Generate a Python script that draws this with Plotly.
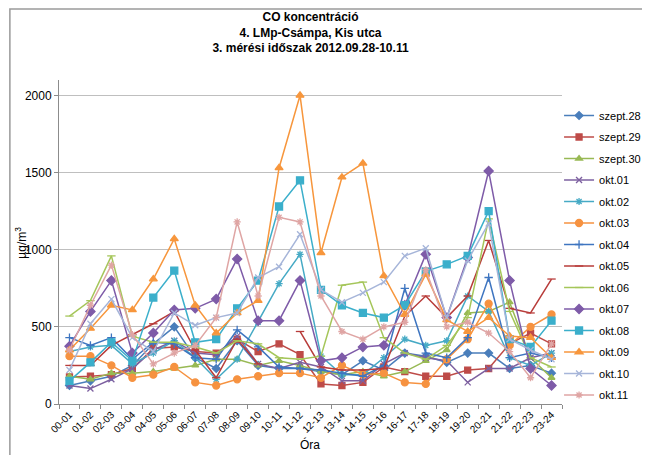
import plotly.graph_objects as go

hours = ["00-01", "01-02", "02-03", "03-04", "04-05", "05-06", "06-07", "07-08",
         "08-09", "09-10", "10-11", "11-12", "12-13", "13-14", "14-15", "15-16",
         "16-17", "17-18", "18-19", "19-20", "20-21", "21-22", "22-23", "23-24"]

szept28 = [120, 150, 180, 250, 390, 500, 300, 230, 410, 250, 230, 230, 210, 190, 280, 220, 330, 310, 270, 330, 330, 230, 250, 200]
szept29 = [175, 180, 190, 230, 360, 370, 340, 330, 420, 340, 390, 320, 130, 120, 140, 240, 210, 180, 180, 220, 230, 390, 460, 390]
szept30 = [180, 160, 200, 200, 210, 230, 250, 290, 290, 250, 280, 250, 210, 190, 210, 180, 210, 280, 350, 590, 600, 660, 300, 170]
okt01 = [120, 100, 160, 230, 350, 410, 330, 320, 440, 260, 230, 270, 240, 150, 150, 260, 330, 300, 280, 140, 230, 230, 300, 330]
okt02 = [340, 370, 380, 260, 330, 410, 300, 160, 290, 530, 780, 970, 310, 190, 190, 300, 420, 380, 410, 700, 600, 300, 250, 330]
okt03 = [310, 310, 250, 170, 190, 240, 140, 120, 160, 180, 200, 200, 170, 250, 190, 200, 140, 130, 290, 420, 650, 380, 500, 580]
okt04 = [430, 380, 430, 290, 400, 390, 300, 290, 480, 370, 240, 230, 220, 200, 180, 250, 750, 330, 300, 430, 820, 300, 330, 300]
okt05 = [250, 250, 380, 450, 520, 600, 350, 170, 420, 260, None, 470, 240, 220, 220, 230, 570, 700, 560, 700, 1060, 620, 590, 810]
okt06 = [570, 670, 960, 440, 400, 400, 370, 330, 410, 390, 300, 290, 310, 770, 790, 430, 330, 290, 380, 560, 1200, 600, 300, 240]
okt07 = [375, 600, 800, 330, 460, 610, 620, 680, 940, 540, 540, 800, 280, 300, 370, 380, 640, 970, 560, 950, 1510, 800, 230, 120]
okt08 = [150, 270, 400, 280, 690, 865, 400, 420, 620, 800, 1280, 1450, 740, 640, 590, 560, 640, 860, 905, 960, 1250, 420, 370, 540]
okt09 = [350, 490, 640, 610, 810, 1070, 640, 460, 590, 670, 1530, 2000, 980, 1470, 1560, 830, 580, 840, 545, 470, 560, 440, 430, 300]
okt10 = [220, 520, 680, 430, 340, 590, 510, 560, 590, 820, 890, 1100, 740, 660, 720, 790, 960, 1010, 560, 930, 1170, 420, 350, 290]
okt11 = [350, 640, 900, 450, 260, 330, 380, 560, 1180, 700, 1210, 1180, 700, 470, 420, 500, 530, 870, 500, 530, 460, 340, 170, 390]

series_names = ["szept.28", "szept.29", "szept.30", "okt.01", "okt.02", "okt.03", "okt.04",
                "okt.05", "okt.06", "okt.07", "okt.08", "okt.09", "okt.10", "okt.11"]
series_values = [szept28, szept29, szept30, okt01, okt02, okt03, okt04,
                 okt05, okt06, okt07, okt08, okt09, okt10, okt11]

colors = ["#4A7EBB", "#BE4B48", "#98B954", "#7D60A0", "#46AAC5", "#F69240", "#3E75C0",
          "#B83C3A", "#A5C65A", "#7E5BA8", "#3BAFCB", "#F7963C", "#A6B5D9", "#DFA5A4"]
symbols = ["diamond", "square", "triangle-up", "x-thin-open", "asterisk-open", "circle",
           "cross-thin-open", "line-ew-open", "line-ew-open", "diamond", "square",
           "triangle-up", "x-thin-open", "asterisk-open"]
sizes = [6, 6, 6, 6, 6, 7, 6, 6, 6, 7, 7, 7, 6, 6]

fig = go.Figure()
for name, vals, col, sym, sz in zip(series_names, series_values, colors, symbols, sizes):
    fig.add_trace(go.Scatter(
        x=hours, y=vals, name=name, mode="lines+markers",
        line=dict(color=col, width=1.5),
        marker=dict(symbol=sym, size=sz, color=col, line=dict(color=col, width=1.3)),
        connectgaps=False, legendgroup=name,
    ))

L, R, T, B = 51, 563, 72, 396
W, H = 650, 455
pw, ph = R - L, B - T

def px_x(x):
    return (x - L) / pw

def px_y(y):
    return (B - y) / ph

fig.update_layout(
    width=W, height=H,
    margin=dict(l=L, r=W - R, t=T, b=H - B),
    paper_bgcolor="white", plot_bgcolor="white",
    font=dict(family="Liberation Sans, Arial, sans-serif", size=11, color="#000000"),
    title=dict(
        text="CO koncentráció<br>4. LMp-Csámpa, Kis utca<br>3. mérési időszak 2012.09.28-10.11",
        x=0.5, xanchor="center", y=1 - 13 / H, yanchor="middle", xref="paper",
        font=dict(family="Liberation Sans Narrow, Arial Narrow, Liberation Sans, sans-serif",
                  size=12, color="#000000", weight="bold"),
    ),
    showlegend=True,
    legend=dict(
        x=px_x(560), xanchor="left", y=px_y(93), yanchor="top",
        font=dict(size=11, color="#000000"),
        bgcolor="rgba(0,0,0,0)", tracegroupgap=2.5, itemwidth=30,
    ),
    xaxis=dict(
        type="category", range=[-0.5, 23.5], tickangle=-45,
        showgrid=False, showline=True, linecolor="#8C8C8C", linewidth=1,
        ticks="outside", tickson="boundaries", ticklen=4, tickcolor="#8C8C8C",
        tickfont=dict(size=10, color="#000000"),
    ),
    yaxis=dict(
        range=[0, 2100], tickvals=[0, 500, 1000, 1500, 2000],
        showgrid=True, gridcolor="#BFBFBF", gridwidth=1,
        showline=True, linecolor="#8C8C8C", linewidth=1,
        ticks="outside", ticklen=4, tickcolor="#8C8C8C",
        tickfont=dict(size=12, color="#000000"), zeroline=False,
    ),
    annotations=[
        dict(text="µg/m<sup>3</sup>", x=px_x(12), y=px_y(235), xref="paper", yref="paper",
             showarrow=False, textangle=-90, font=dict(size=12, color="#000000"),
             xanchor="center", yanchor="middle"),
        dict(text="Óra", x=px_x(306), y=px_y(437), xref="paper", yref="paper",
             showarrow=False, font=dict(size=12, color="#000000"),
             xanchor="center", yanchor="middle"),
    ],
    shapes=[
        dict(type="rect", xref="paper", yref="paper",
             x0=px_x(1), x1=px_x(649), y0=px_y(453), y1=px_y(1),
             line=dict(color="#9A9A9A", width=1.5), fillcolor="rgba(0,0,0,0)", layer="below"),
    ],
)

fig.write_html("out.html")
